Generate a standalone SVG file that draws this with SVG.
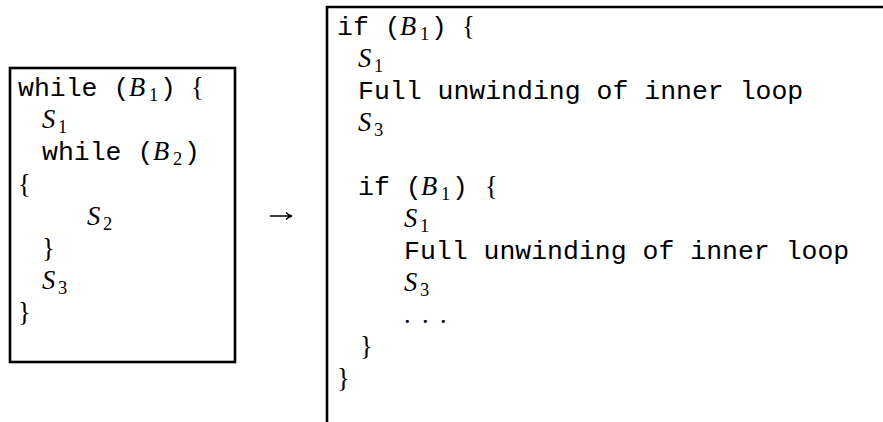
<svg xmlns="http://www.w3.org/2000/svg" width="883" height="422" viewBox="0 0 883 422">
<style>
.m{font-family:"Liberation Mono","Courier New",monospace;font-size:26.5px;fill:#000}
.v{font-family:"Liberation Serif","Times New Roman",serif;font-style:italic;font-size:26.5px;fill:#000}
.s{font-family:"Liberation Serif","Times New Roman",serif;font-size:18.5px;fill:#000}
.b{font-family:"Liberation Serif","Times New Roman",serif;font-size:26.5px;fill:#000}
.box{fill:none;stroke:#000;stroke-width:2.6}
</style>
<rect width="883" height="422" fill="#fff"/>
<g id="loop">
<rect class="box" x="10" y="68" width="225" height="294"/>
<text class="m" x="18" y="96">while (</text><text class="v" x="129" y="96">B</text><text class="s" x="149" y="101">1</text><text class="m" x="160" y="96">)</text><text class="b" x="191" y="96">{</text>
<text class="v" x="42" y="128">S</text><text class="s" x="58" y="133">1</text>
<text class="m" x="42" y="160">while (</text><text class="v" x="153" y="160">B</text><text class="s" x="173" y="165">2</text><text class="m" x="184" y="160">)</text>
<text class="b" x="18" y="193">{</text>
<text class="v" x="87" y="225">S</text><text class="s" x="103" y="230">2</text>
<text class="b" x="42" y="257">}</text>
<text class="v" x="42" y="289">S</text><text class="s" x="58" y="294">3</text>
<text class="b" x="18" y="321">}</text>
</g>
<g id="connectors">
<path d="M270,216 H291 M286,212.5 Q288.5,215.3 292,216 Q288.5,216.7 286,219.5" fill="none" stroke="#000" stroke-width="1.3"/>
</g>
<g id="unrolled">
<path class="box" d="M327,424 V7 H885"/>
<text class="m" x="337" y="35">if (</text><text class="v" x="400" y="35">B</text><text class="s" x="420" y="40">1</text><text class="m" x="431" y="35">)</text><text class="b" x="462" y="35">{</text>
<text class="v" x="358" y="67">S</text><text class="s" x="374" y="72">1</text>
<text class="m" x="358" y="99">Full unwinding of inner loop</text>
<text class="v" x="358" y="131">S</text><text class="s" x="374" y="136">3</text>
<text class="m" x="358" y="195">if (</text><text class="v" x="421" y="195">B</text><text class="s" x="441" y="200">1</text><text class="m" x="452" y="195">)</text><text class="b" x="485" y="195">{</text>
<text class="v" x="404" y="227">S</text><text class="s" x="420" y="232">1</text>
<text class="m" x="404" y="259">Full unwinding of inner loop</text>
<text class="v" x="404" y="291">S</text><text class="s" x="420" y="296">3</text>
<text class="b" x="404" y="323" letter-spacing="11.4">...</text>
<text class="b" x="360" y="355">}</text>
<text class="b" x="337" y="387">}</text>
</g>
</svg>
